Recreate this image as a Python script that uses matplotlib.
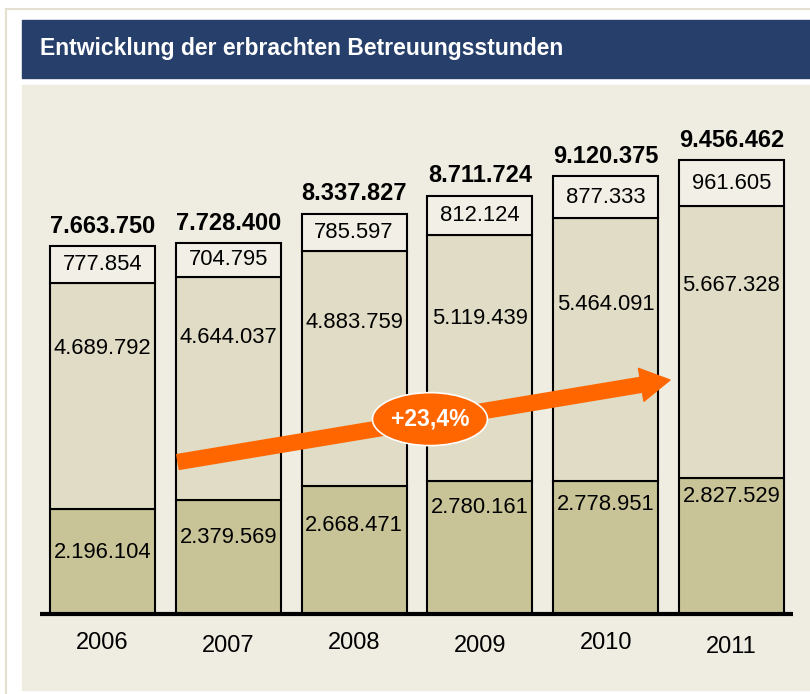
import matplotlib
matplotlib.use('Agg')
import matplotlib.pyplot as plt
from matplotlib.patches import Rectangle, Ellipse, FancyArrowPatch, ArrowStyle
from matplotlib.lines import Line2D

plt.rcParams['font.family'] = ['Liberation Sans', 'DejaVu Sans']

# Betreuungsstunden in Mio. je Jahr
years = ['2006', '2007', '2008', '2009', '2010', '2011']
unten = [2.196104, 2.379569, 2.668471, 2.780161, 2.778951, 2.827529]
mitte = [4.689792, 4.644037, 4.883759, 5.119439, 5.464091, 5.667328]
oben = [0.777854, 0.704795, 0.785597, 0.812124, 0.877333, 0.961605]
gesamt = [7.663750, 7.728400, 8.337827, 8.711724, 9.120375, 9.456462]
steigerung = '+23,4%'

def de(v):
    return f'{round(v * 1e6):,}'.replace(',', '.')

NAVY = '#273f6b'; PANEL = '#efece2'; C_TOP = '#f2f0e6'
C_MID = '#e0dcc5'; C_BOT = '#c8c498'; ORANGE = '#ff6600'

fig = plt.figure(figsize=(8.1, 6.94), dpi=100)
fig.patch.set_facecolor('white')
W, H = 810, 694
def fx(px): return px / W
def fy(py): return 1 - py / H

# rahmen, titelbalken, hintergrund
fig.add_artist(Line2D([fx(6), fx(6)], [0, fy(9)], color='#e4e0d0', lw=1.5))
fig.add_artist(Line2D([fx(6), 1], [fy(9), fy(9)], color='#e4e0d0', lw=1.5))
fig.add_artist(Rectangle((fx(22), fy(78)), 1 - fx(22), (78 - 20) / H,
                         color=NAVY, transform=fig.transFigure, zorder=0))
fig.text(fx(40), fy(49), 'Entwicklung der erbrachten Betreuungsstunden',
         color='white', fontsize=16.5, fontweight='bold', va='center')
fig.add_artist(Rectangle((fx(22), fy(690)), 1 - fx(22), (690 - 85) / H,
                         color=PANEL, transform=fig.transFigure, zorder=0))

ax = fig.add_axes([fx(40), fy(614), (793 - 40) / W, (614 - 100) / H])
ax.patch.set_alpha(0)
x = range(len(years))
bw = 0.835
kw = dict(width=bw, edgecolor='black', linewidth=1.5, zorder=2)
b1 = [u + m for u, m in zip(unten, mitte)]
ax.bar(x, unten, color=C_BOT, **kw)
ax.bar(x, mitte, bottom=unten, color=C_MID, **kw)
ax.bar(x, oben, bottom=b1, color=C_TOP, **kw)

ax.set_xlim(-0.497, 5.489)
ax.set_ylim(0, 514 / 48)
for s in ax.spines.values():
    s.set_visible(False)
ax.set_xticks([]); ax.set_yticks([])
# grundlinie
ax.add_line(Line2D([0, 1], [0, 0], transform=ax.transAxes, color='black',
                   lw=3, solid_capstyle='butt', zorder=3, clip_on=False))

# beschriftungen (versatz in pixeln unter der segmentoberkante)
off_mid = [65, 61, 71, 84, 86, 79]
off_bot = [44, 38, 40, 27, 24, 18]
year_off = [29, 32, 29, 32, 29, 33]
fs = 15.8
for i in x:
    ax.annotate(de(unten[i]), (i, unten[i]), xytext=(0, -off_bot[i]),
                textcoords='offset pixels', ha='center', va='center', fontsize=fs, zorder=4)
    ax.annotate(de(mitte[i]), (i, b1[i]), xytext=(0, -off_mid[i]),
                textcoords='offset pixels', ha='center', va='center', fontsize=fs, zorder=4)
    ax.text(i, b1[i] + oben[i] / 2, de(oben[i]), ha='center', va='center',
            fontsize=fs, zorder=4)
    ax.annotate(de(gesamt[i]), (i, b1[i] + oben[i]), xytext=(0, 20),
                textcoords='offset pixels', ha='center', va='center',
                fontsize=17, fontweight='bold', zorder=4)
    ax.annotate(years[i], (i, 0), xytext=(0, -year_off[i]),
                textcoords='offset pixels', ha='center', va='center',
                fontsize=17, annotation_clip=False)

# trendpfeil mit prozentangabe
arrow = FancyArrowPatch((0.600, 3.167), (4.511, 4.875),
                        arrowstyle=ArrowStyle.Simple(head_length=21, head_width=24, tail_width=10.8),
                        mutation_scale=1, color=ORANGE, shrinkA=0, shrinkB=0, zorder=5)
ax.add_patch(arrow)
ax.add_patch(Ellipse((2.603, 4.06), 0.914, 1.104, facecolor=ORANGE,
                     edgecolor='white', lw=1.2, zorder=6))
ax.text(2.603, 4.06, steigerung, ha='center', va='center', color='white',
        fontsize=16.5, fontweight='bold', zorder=7)

fig.savefig('out.png', dpi=100)
